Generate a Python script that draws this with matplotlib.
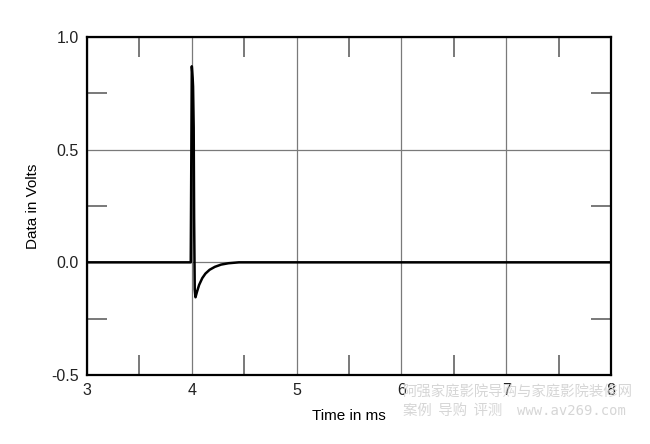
import matplotlib
matplotlib.use("Agg")
from matplotlib import pyplot as plt
from matplotlib.ticker import MultipleLocator
import numpy as np

plt.rcParams['font.family'] = ['Liberation Sans', 'DejaVu Sans']

# impulse response, time in ms / volts
t = [3.0, 3.99, 4.0, 4.002, 4.008, 4.012, 4.018, 4.022, 4.028, 4.035, 4.05,
     4.07, 4.1, 4.13, 4.17, 4.22, 4.28, 4.35, 4.45, 8.0]
v = [0.0, 0.0, 0.87, 0.86, 0.82, 0.78, 0.60, 0.20, -0.12, -0.155, -0.13,
     -0.10, -0.07, -0.05, -0.033, -0.02, -0.01, -0.004, 0.0, 0.0]

x_ticks = [3, 4, 5, 6, 7, 8]
y_ticks = [-0.5, 0.0, 0.5, 1.0]
y_labels = ['-0.5', '0.0', '0.5', '1.0']

fig = plt.figure(figsize=(6.5, 4.44), dpi=100)
ax = fig.add_axes([87 / 650, 1 - 375 / 444, 524 / 650, 338 / 444])

ax.plot(t, v, color='black', lw=1.8, zorder=3)

ax.set_xlim(3, 8)
ax.set_ylim(-0.5, 1.0)
ax.set_xticks(x_ticks)
ax.set_yticks(y_ticks)
ax.set_yticklabels(y_labels)
ax.xaxis.set_minor_locator(MultipleLocator(0.5))
ax.yaxis.set_minor_locator(MultipleLocator(0.25))
ax.grid(True, which='major', color='#7a7a7a', lw=0.9)
ax.tick_params(which='major', length=0, labelsize=11.5, pad=6, colors='#222222')
ax.tick_params(which='minor', direction='in', length=14.5, width=1.1,
               color='#555555', top=True, right=True)
for s in ax.spines.values():
    s.set_linewidth(1.6)

ax.set_xlabel('Time in ms', fontsize=11, labelpad=8)
ax.set_ylabel('Data in Volts', fontsize=11, labelpad=8)

# watermark
wm = dict(color='#d6d6d6', ha='left', va='center', zorder=0)
fig.text(403 / 650, 1 - 393 / 444, '阿强家庭影院导购与家庭影院装修网',
         family=['Noto Sans CJK SC', 'DejaVu Sans'], fontsize=10.4, **wm)
fig.text(403 / 650, 1 - 411 / 444, '案例  导购  评测',
         family=['Noto Sans CJK SC', 'DejaVu Sans'], fontsize=10.4, **wm)
fig.text(517 / 650, 1 - 411 / 444, 'www.av269.com',
         family='DejaVu Sans Mono', fontsize=10, **wm)

fig.savefig('out.png', dpi=100)
